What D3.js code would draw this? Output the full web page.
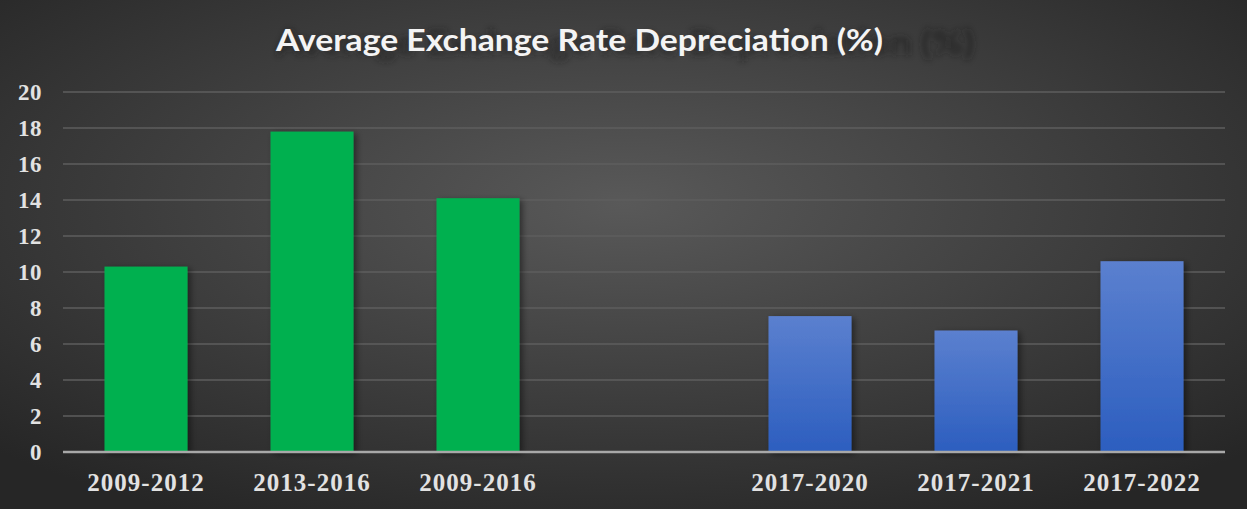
<!DOCTYPE html>
<html lang="en">
<head>
    <meta charset="UTF-8">
    <title>Average Exchange Rate Depreciation</title>
    <script src="https://cdn.jsdelivr.net/npm/d3@7"></script>
    <style>
        html, body {
            margin: 0;
            padding: 0;
            background: #2a2a2a;
        }

        .grid line {
            stroke: #5e5e5e;
            stroke-width: 1.5;
        }

        .tick-label {
            font-family: "Liberation Serif", "Times New Roman", serif;
            font-weight: bold;
            fill: #e2e2e2;
        }

        .title {
            font-family: Lato, "Open Sans", sans-serif;
            font-weight: bold;
            font-size: 30px;
        }
    </style>
</head>
<body>
<svg width="1247" height="509"></svg>

<script>
    var categories = ["2009-2012", "2013-2016", "2009-2016", "", "2017-2020", "2017-2021", "2017-2022"];
    var values = [10.3, 17.8, 14.1, null, 7.55, 6.75, 10.6];
    var group = ["green", "green", "green", null, "blue", "blue", "blue"];
    var yTicks = [0, 2, 4, 6, 8, 10, 12, 14, 16, 18, 20];
    var title = "Average Exchange Rate Depreciation (%)";

    var svg = d3.select("svg"),
        width = +svg.attr("width"),
        height = +svg.attr("height");

    var margin = {left: 63, right: 22, top: 92, bottom: 57};

    var x = d3.scaleBand()
        .domain(categories.map(function (d, i) { return i; }))
        .range([margin.left, width - margin.right])
        .paddingInner(0.5)
        .paddingOuter(0.25);

    var y = d3.scaleLinear()
        .domain([0, 20])
        .range([height - margin.bottom, margin.top]);

    var defs = svg.append("defs");

    // background
    var bg = defs.append("radialGradient")
        .attr("id", "bg")
        .attr("cx", "50%").attr("cy", "40%").attr("r", "70%");
    bg.append("stop").attr("offset", "0%").attr("stop-color", "#595959");
    bg.append("stop").attr("offset", "100%").attr("stop-color", "#262626");

    var blue = defs.append("linearGradient")
        .attr("id", "blueFill")
        .attr("x1", 0).attr("y1", 0).attr("x2", 0).attr("y2", 1);
    blue.append("stop").attr("offset", "0%").attr("stop-color", "#5b80cf");
    blue.append("stop").attr("offset", "100%").attr("stop-color", "#2c5ebf");

    var shadow = defs.append("filter")
        .attr("id", "barShadow")
        .attr("x", "-20%").attr("y", "-20%").attr("width", "150%").attr("height", "150%");
    shadow.append("feDropShadow")
        .attr("dx", 3).attr("dy", 2)
        .attr("stdDeviation", 3)
        .attr("flood-color", "#000")
        .attr("flood-opacity", 0.45);

    var blur = defs.append("filter").attr("id", "titleBlur")
        .attr("x", "-10%").attr("y", "-50%").attr("width", "130%").attr("height", "200%");
    blur.append("feGaussianBlur").attr("stdDeviation", 2.6);

    svg.append("rect")
        .attr("width", width)
        .attr("height", height)
        .attr("fill", "url(#bg)");

    // gridlines
    svg.append("g")
        .attr("class", "grid")
        .selectAll("line")
        .data(yTicks.filter(function (d) { return d > 0; }))
        .enter()
        .append("line")
        .attr("x1", margin.left)
        .attr("x2", width - margin.right)
        .attr("y1", function (d) { return y(d); })
        .attr("y2", function (d) { return y(d); });

    // bars
    var barData = categories.map(function (c, i) {
        return {i: i, cat: c, value: values[i], group: group[i]};
    }).filter(function (d) { return d.value !== null; });

    svg.append("g")
        .selectAll("rect")
        .data(barData)
        .enter()
        .append("rect")
        .attr("x", function (d) { return x(d.i); })
        .attr("width", x.bandwidth())
        .attr("y", function (d) { return y(d.value); })
        .attr("height", function (d) { return y(0) - y(d.value); })
        .attr("fill", function (d) { return d.group === "green" ? "#00b050" : "url(#blueFill)"; })
        .attr("filter", "url(#barShadow)");

    // x axis line
    svg.append("line")
        .attr("x1", margin.left)
        .attr("x2", width - margin.right)
        .attr("y1", y(0))
        .attr("y2", y(0))
        .attr("stroke", "#a8a8a8")
        .attr("stroke-width", 2.5);

    // y tick labels
    svg.append("g")
        .selectAll("text")
        .data(yTicks)
        .enter()
        .append("text")
        .attr("class", "tick-label")
        .attr("x", 42)
        .attr("y", function (d) { return y(d); })
        .attr("dy", "0.34em")
        .attr("text-anchor", "end")
        .attr("font-size", 23)
        .attr("letter-spacing", 0.5)
        .text(function (d) { return d; });

    // x tick labels
    svg.append("g")
        .selectAll("text")
        .data(barData)
        .enter()
        .append("text")
        .attr("class", "tick-label")
        .attr("x", function (d) { return x(d.i) + x.bandwidth() / 2; })
        .attr("y", 491)
        .attr("text-anchor", "middle")
        .attr("font-size", 25)
        .attr("letter-spacing", 1)
        .text(function (d) { return d.cat; });

    // title with blurred offset shadow
    var titleLeft = 276, titleWidth = 607, titleBase = 51;

    svg.append("text")
        .attr("class", "title")
        .attr("x", 0)
        .attr("y", 0)
        .attr("transform", "translate(" + titleLeft + "," + (titleBase + 4) + ") scale(1.15)")
        .attr("textLength", titleWidth)
        .attr("lengthAdjust", "spacingAndGlyphs")
        .attr("fill", "#1e1e1e")
        .attr("opacity", 0.6)
        .attr("filter", "url(#titleBlur)")
        .text(title);

    svg.append("text")
        .attr("class", "title")
        .attr("x", titleLeft)
        .attr("y", titleBase)
        .attr("textLength", titleWidth)
        .attr("lengthAdjust", "spacingAndGlyphs")
        .attr("fill", "#f4f4f4")
        .text(title);
</script>
</body>
</html>
